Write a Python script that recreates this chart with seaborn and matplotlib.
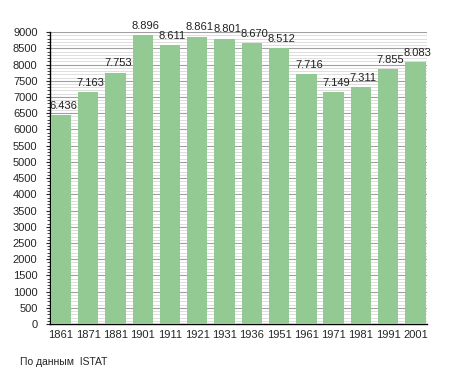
import numpy as np
import pandas as pd
import matplotlib
matplotlib.use("Agg")
import matplotlib.pyplot as plt
from matplotlib.ticker import MultipleLocator
import seaborn as sns

# === Datos ===
years = ["1861", "1871", "1881", "1901", "1911", "1921", "1931",
         "1936", "1951", "1961", "1971", "1981", "1991", "2001"]
population = [6436, 7163, 7753, 8896, 8611, 8861, 8801,
              8670, 8512, 7716, 7149, 7311, 7855, 8083]
labels = ["6.436", "7.163", "7.753", "8.896", "8.611", "8.861", "8.801",
          "8.670", "8.512", "7.716", "7.149", "7.311", "7.855", "8.083"]

df = pd.DataFrame({"anno": years, "abitanti": population})

# === Estilo ===
sns.set_style("white")
plt.rcParams["font.family"] = ["Liberation Sans", "DejaVu Sans"]

fig = plt.figure(figsize=(4.55, 3.73), dpi=100)
ax = fig.add_axes([0.11, 0.131, 0.828, 0.783])

sns.barplot(data=df, x="anno", y="abitanti", color="#93c993",
            saturation=1, width=0.75, linewidth=0, edgecolor="none",
            ax=ax, zorder=3)

# valori sopra le barre
for i, (v, lab) in enumerate(zip(population, labels)):
    ax.annotate(lab, (i, v), xytext=(1.8, 3), textcoords="offset points",
                ha="center", va="bottom", fontsize=8, color="#222222")

ax.set_ylim(0, 9000)
ax.set_xlim(-0.40, len(years) - 1 + 0.42)
ax.yaxis.set_major_locator(MultipleLocator(500))
ax.yaxis.set_minor_locator(MultipleLocator(100))
ax.grid(axis="y", which="major", color="#a0a0a0", lw=0.8, zorder=0)
ax.grid(axis="y", which="minor", color="#d8d8d8", lw=0.6, zorder=0)
ax.set_axisbelow(True)

for s in ["top", "right"]:
    ax.spines[s].set_visible(False)
for s in ["left", "bottom"]:
    ax.spines[s].set_color("black")
    ax.spines[s].set_linewidth(1.0)

ax.tick_params(axis="y", which="major", left=True, length=3, width=0.8, labelsize=8, pad=6)
ax.tick_params(axis="y", which="minor", left=True, length=2, width=0.6)
ax.tick_params(axis="x", bottom=False, labelsize=8, pad=1)
ax.set_xlabel("")
ax.set_ylabel("")

fig.text(0.044, 0.03, "По данным  ISTAT", fontsize=7.5, ha="left", va="center")

fig.savefig("out.png", dpi=100)
